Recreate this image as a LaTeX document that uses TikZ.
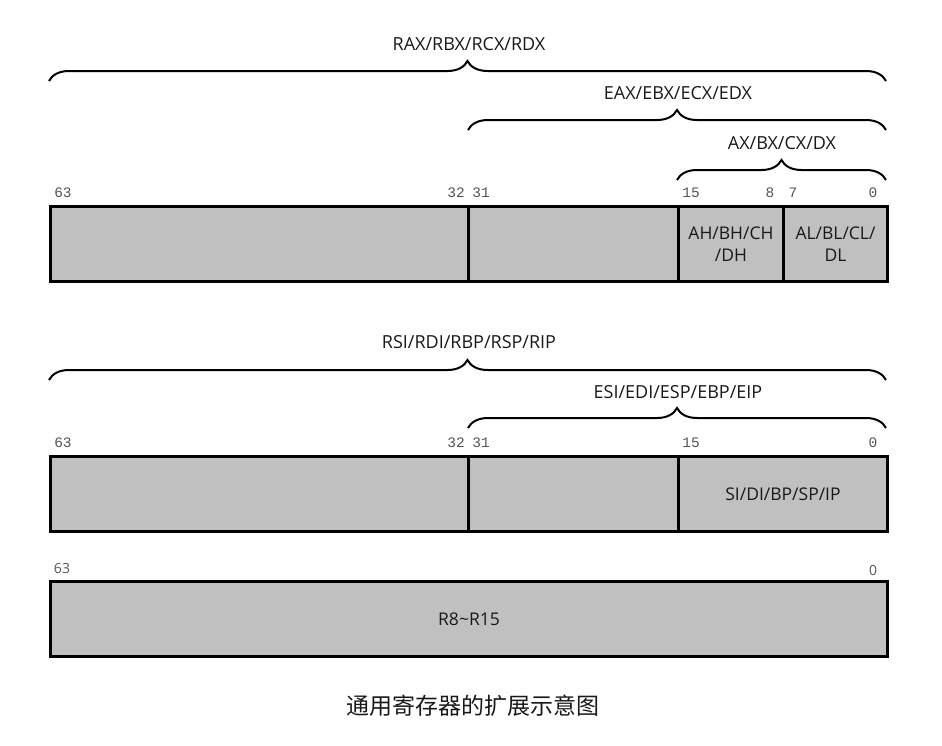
\documentclass[tikz,border=0pt]{standalone}
\usepackage{fontspec}
\setmainfont{Open Sans}
\newfontfamily\monof{Liberation Mono}
\newfontfamily\cjk{Noto Sans CJK SC}
\usetikzlibrary{decorations.pathreplacing}
\definecolor{regfill}{RGB}{192,192,192}
\definecolor{bitgray}{RGB}{85,85,85}
\definecolor{txt}{RGB}{25,25,25}
\begin{document}
\begin{tikzpicture}[x=1pt,y=-1pt,
  seg/.style={draw=black, line width=3pt, fill=regfill, inner sep=0pt,
    minimum height=75pt, anchor=north west, align=center, text=txt,
    font=\fontsize{17.5}{21.5}\selectfont},
  bit/.style={font=\monof\fontsize{14.5}{15}\selectfont, text=bitgray, inner sep=0pt},
  bitsans/.style={font=\fontsize{14}{15}\selectfont, text=bitgray, inner sep=0pt},
  brc/.style={decorate, decoration={brace, amplitude=20pt}, line width=2pt},
  lbl/.style={font=\fontsize{18}{21}\selectfont, text=txt, inner sep=0pt}]
\useasboundingbox (0,0) rectangle (942,745);

% ---------- Row 1 ----------
\node[seg, minimum width=418pt] (a1) at (49,205) {};
\node[seg, minimum width=210pt] (a2) at (467,205) {};
\node[seg, minimum width=105pt] (a3) at (677,205) {AH/BH/CH\\/DH};
\node[seg, minimum width=104pt] (a4) at (782,205) {AL/BL/CL/\\DL};

\node[bit] (b63) at (63,193) {63};
\node[bit] (b32) at (456,193) {32};
\node[bit] (b31) at (481,193) {31};
\node[bit] (b15) at (691,193) {15};
\node[bit] (b8) at (770,193) {8};
\node[bit] (b7) at (793,193) {7};
\node[bit] (b0) at (873,193) {0};

\coordinate (raxL) at (49,81);
\coordinate (raxR) at (886,81);
\coordinate (eaxL) at (468,130);
\coordinate (eaxR) at (886,130);
\coordinate (axL) at (677,180);
\coordinate (axR) at (886,180);
\draw[brc] (raxL) -- (raxR);
\draw[brc] (eaxL) -- (eaxR);
\draw[brc] (axL) -- (axR);
\node[lbl] (lrax) at (469,44) {RAX/RBX/RCX/RDX};
\node[lbl] (leax) at (678,93) {EAX/EBX/ECX/EDX};
\node[lbl] (lax) at (782,143) {AX/BX/CX/DX};

% ---------- Row 2 ----------
\node[seg, minimum width=418pt] (s1) at (49,455) {};
\node[seg, minimum width=210pt] (s2) at (467,455) {};
\node[seg, minimum width=209pt] (s3) at (677,455) {SI/DI/BP/SP/IP};

\node[bit] (c63) at (63,443) {63};
\node[bit] (c32) at (456,443) {32};
\node[bit] (c31) at (481,443) {31};
\node[bit] (c15) at (691,443) {15};
\node[bit] (c0) at (873,443) {0};

\coordinate (rsiL) at (49,380);
\coordinate (rsiR) at (886,380);
\coordinate (esiL) at (468,428);
\coordinate (esiR) at (886,428);
\draw[brc] (rsiL) -- (rsiR);
\draw[brc] (esiL) -- (esiR);
\node[lbl] (lrsi) at (469,342) {RSI/RDI/RBP/RSP/RIP};
\node[lbl] (lesi) at (678,392) {ESI/EDI/ESP/EBP/EIP};

% ---------- Row 3 ----------
\node[seg, minimum width=837pt] (r8) at (49,580) {R8\textasciitilde R15};
\node[bitsans] (d63) at (62,568) {63};
\node[bitsans] (d0) at (873,570) {0};

% ---------- Caption ----------
\node[font=\cjk\fontsize{23}{26}\selectfont, text=txt, inner sep=0pt] (cap) at (473,706) {通用寄存器的扩展示意图};
\end{tikzpicture}
\end{document}
